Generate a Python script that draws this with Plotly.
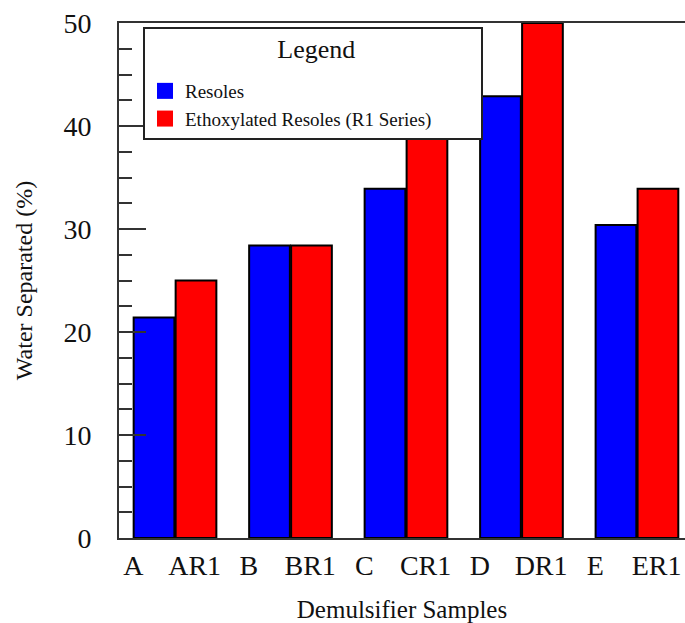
import plotly.graph_objects as go

groups = ["A", "B", "C", "D", "E"]
resole_labels = ["A", "B", "C", "D", "E"]
ethox_labels = ["AR1", "BR1", "CR1", "DR1", "ER1"]
resoles = [21.4, 28.4, 33.9, 42.9, 30.4]
ethoxylated = [25.0, 28.4, 40.0, 50.0, 33.9]
series_names = ["Resoles", "Ethoxylated Resoles (R1 Series)"]
colors = ["#0000ff", "#ff0000"]

FONT = "Liberation Serif, Times New Roman, serif"
xpos = list(range(len(groups)))

fig = go.Figure()
for vals, name, col in zip([resoles, ethoxylated], series_names, colors):
    fig.add_trace(go.Bar(
        x=xpos, y=vals, name=name, showlegend=False,
        marker=dict(color=col, line=dict(color="#000000", width=2)),
    ))
    # legend proxy (larger square swatch, no outline)
    fig.add_trace(go.Scatter(
        x=[None], y=[None], mode="markers", name=name,
        marker=dict(symbol="square", size=16, color=col),
    ))

tickvals = []
ticktext = []
for i in xpos:
    tickvals += [i - 0.36, i + 0.17]
    ticktext += [resole_labels[i], ethox_labels[i]]

padl = "&nbsp;" * 20
padr = "&nbsp;" * 19
fig.update_layout(
    width=685, height=623,
    margin=dict(l=119, r=0, t=23, b=85),
    paper_bgcolor="white", plot_bgcolor="white",
    font=dict(family=FONT, color="#111111"),
    barmode="group", bargap=0.273, bargroupgap=0.03,
    legend=dict(
        x=0.0424, y=0.992, xanchor="left", yanchor="top",
        bgcolor="white", bordercolor="#222222", borderwidth=2,
        font=dict(family=FONT, size=19, color="#111111"),
        title=dict(text=f"&nbsp;<br><span style='font-size:26px'>{padl}Legend{padr}</span><br>&nbsp;",
                   side="top center",
                   font=dict(family=FONT, size=11, color="#111111")),
        tracegroupgap=0, itemsizing="trace",
    ),
)

fig.update_xaxes(
    range=[-0.485, 4.416], showgrid=False, zeroline=False, automargin=False,
    showline=True, linecolor="#333333", linewidth=2, mirror=True,
    ticks="", tickmode="array", tickvals=tickvals, ticktext=ticktext,
    tickfont=dict(family=FONT, size=28, color="#111111"),
    ticklabelstandoff=1,
    title=dict(text="Demulsifier Samples", standoff=25,
               font=dict(family=FONT, size=25, color="#111111")),
)
fig.update_yaxes(
    range=[0, 50], showgrid=False, zeroline=False, automargin=False,
    showline=True, linecolor="#333333", linewidth=2,
    ticks="inside", ticklen=27, tickwidth=2, tickcolor="#333333",
    tick0=0, dtick=10,
    minor=dict(ticks="inside", ticklen=13, tickwidth=2, tickcolor="#333333", dtick=2.5, showgrid=False),
    tickfont=dict(family=FONT, size=28, color="#111111"),
    ticklabelstandoff=20,
    title=dict(text="Water Separated (%)", standoff=24,
               font=dict(family=FONT, size=24, color="#111111")),
)

fig.write_html("out.html")
